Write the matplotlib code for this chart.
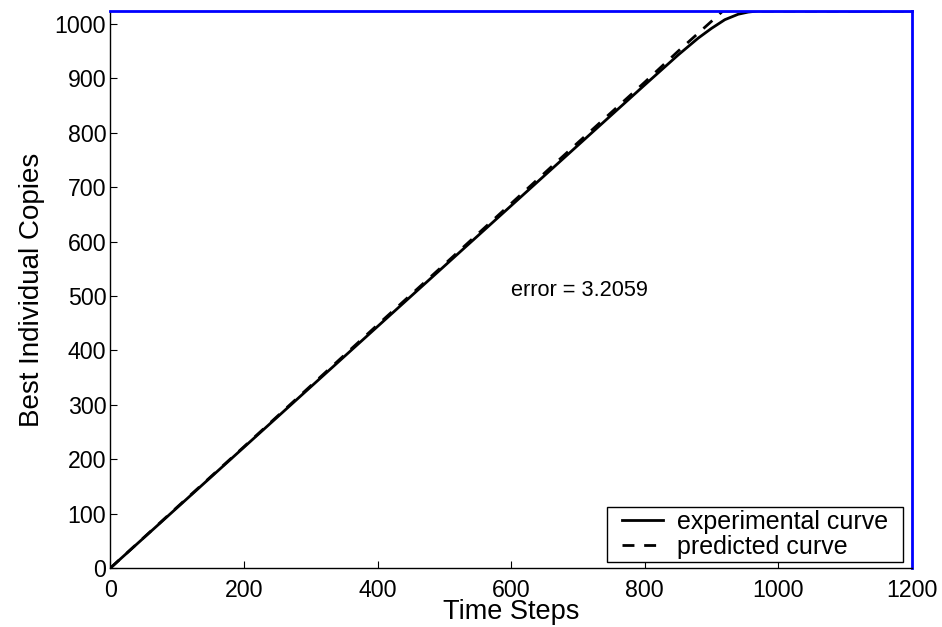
import matplotlib
matplotlib.use("Agg")
import matplotlib.pyplot as plt
from matplotlib.patches import Rectangle

plt.rcParams['font.family'] = ['Liberation Sans', 'DejaVu Sans']

# Experimental and predicted growth of best-individual copies
exp_steps = [0, 100, 200, 300, 400, 500, 600, 700, 800, 850, 880, 900, 920, 940, 955, 970, 1000, 1200]
exp_copies = [0, 111, 222, 333, 444, 555, 666, 777, 888, 943, 974, 992, 1008, 1018, 1022, 1024, 1024, 1024]

pred_steps = [0, 100, 200, 300, 400, 500, 600, 700, 800, 850, 900, 917, 930, 1200]
pred_copies = [0, 112, 223, 335, 447, 558, 670, 782, 893, 950, 1005, 1024, 1024, 1024]

error_value = 3.2059

xticks = [0, 200, 400, 600, 800, 1000, 1200]
yticks = [0, 100, 200, 300, 400, 500, 600, 700, 800, 900, 1000]

W, H = 942, 627
fig = plt.figure(figsize=(W / 100, H / 100), dpi=100)
ax = fig.add_axes([0.1172, 0.0941, 0.8508, 0.8884])

ax.plot(exp_steps, exp_copies, color='black', lw=2.0, ls='-', label='experimental curve')
ax.plot(pred_steps, pred_copies, color='black', lw=2.0, ls=(0, (4.3, 3.5)), label='predicted curve')

ax.set_xlim(0, 1200)
ax.set_ylim(0, 1024)
ax.set_xticks(xticks)
ax.set_yticks(yticks)
ax.tick_params(direction='in', length=5, labelsize=16.7, top=False, right=False)
ax.tick_params(axis='x', pad=8)
ax.tick_params(axis='y', pad=3)

for side in ('left', 'bottom'):
    ax.spines[side].set_color('black')
    ax.spines[side].set_linewidth(1.0)
for side in ('top', 'right'):
    ax.spines[side].set_color('#0000ff')
    ax.spines[side].set_linewidth(2.0)

ax.set_xlabel('Time Steps', fontsize=19.5, labelpad=-2)
ax.set_ylabel('Best Individual Copies', fontsize=20, labelpad=7)

ax.text(600, 510, f'error = {error_value:.4f}', fontsize=15.7, ha='left', va='center')

# Legend: entries centred in a rectangular box near the lower right corner
box_l, box_r, box_t, box_b = 607, 903, 507, 562
frame = Rectangle((box_l / W, 1 - box_b / H), (box_r - box_l) / W, (box_b - box_t) / H,
                  transform=fig.transFigure, facecolor='white', edgecolor='black',
                  lw=1.0, zorder=4)
ax.add_artist(frame)
leg = ax.legend(loc='center', bbox_to_anchor=((box_l + box_r) / 2 / W, 1 - (box_t + box_b) / 2 / H),
                bbox_transform=fig.transFigure, borderaxespad=0, fontsize=18,
                frameon=False, handlelength=1.64, borderpad=0.0, labelspacing=0.05,
                handletextpad=0.56)
leg.set_zorder(5)

fig.savefig('out.png', dpi=100)
